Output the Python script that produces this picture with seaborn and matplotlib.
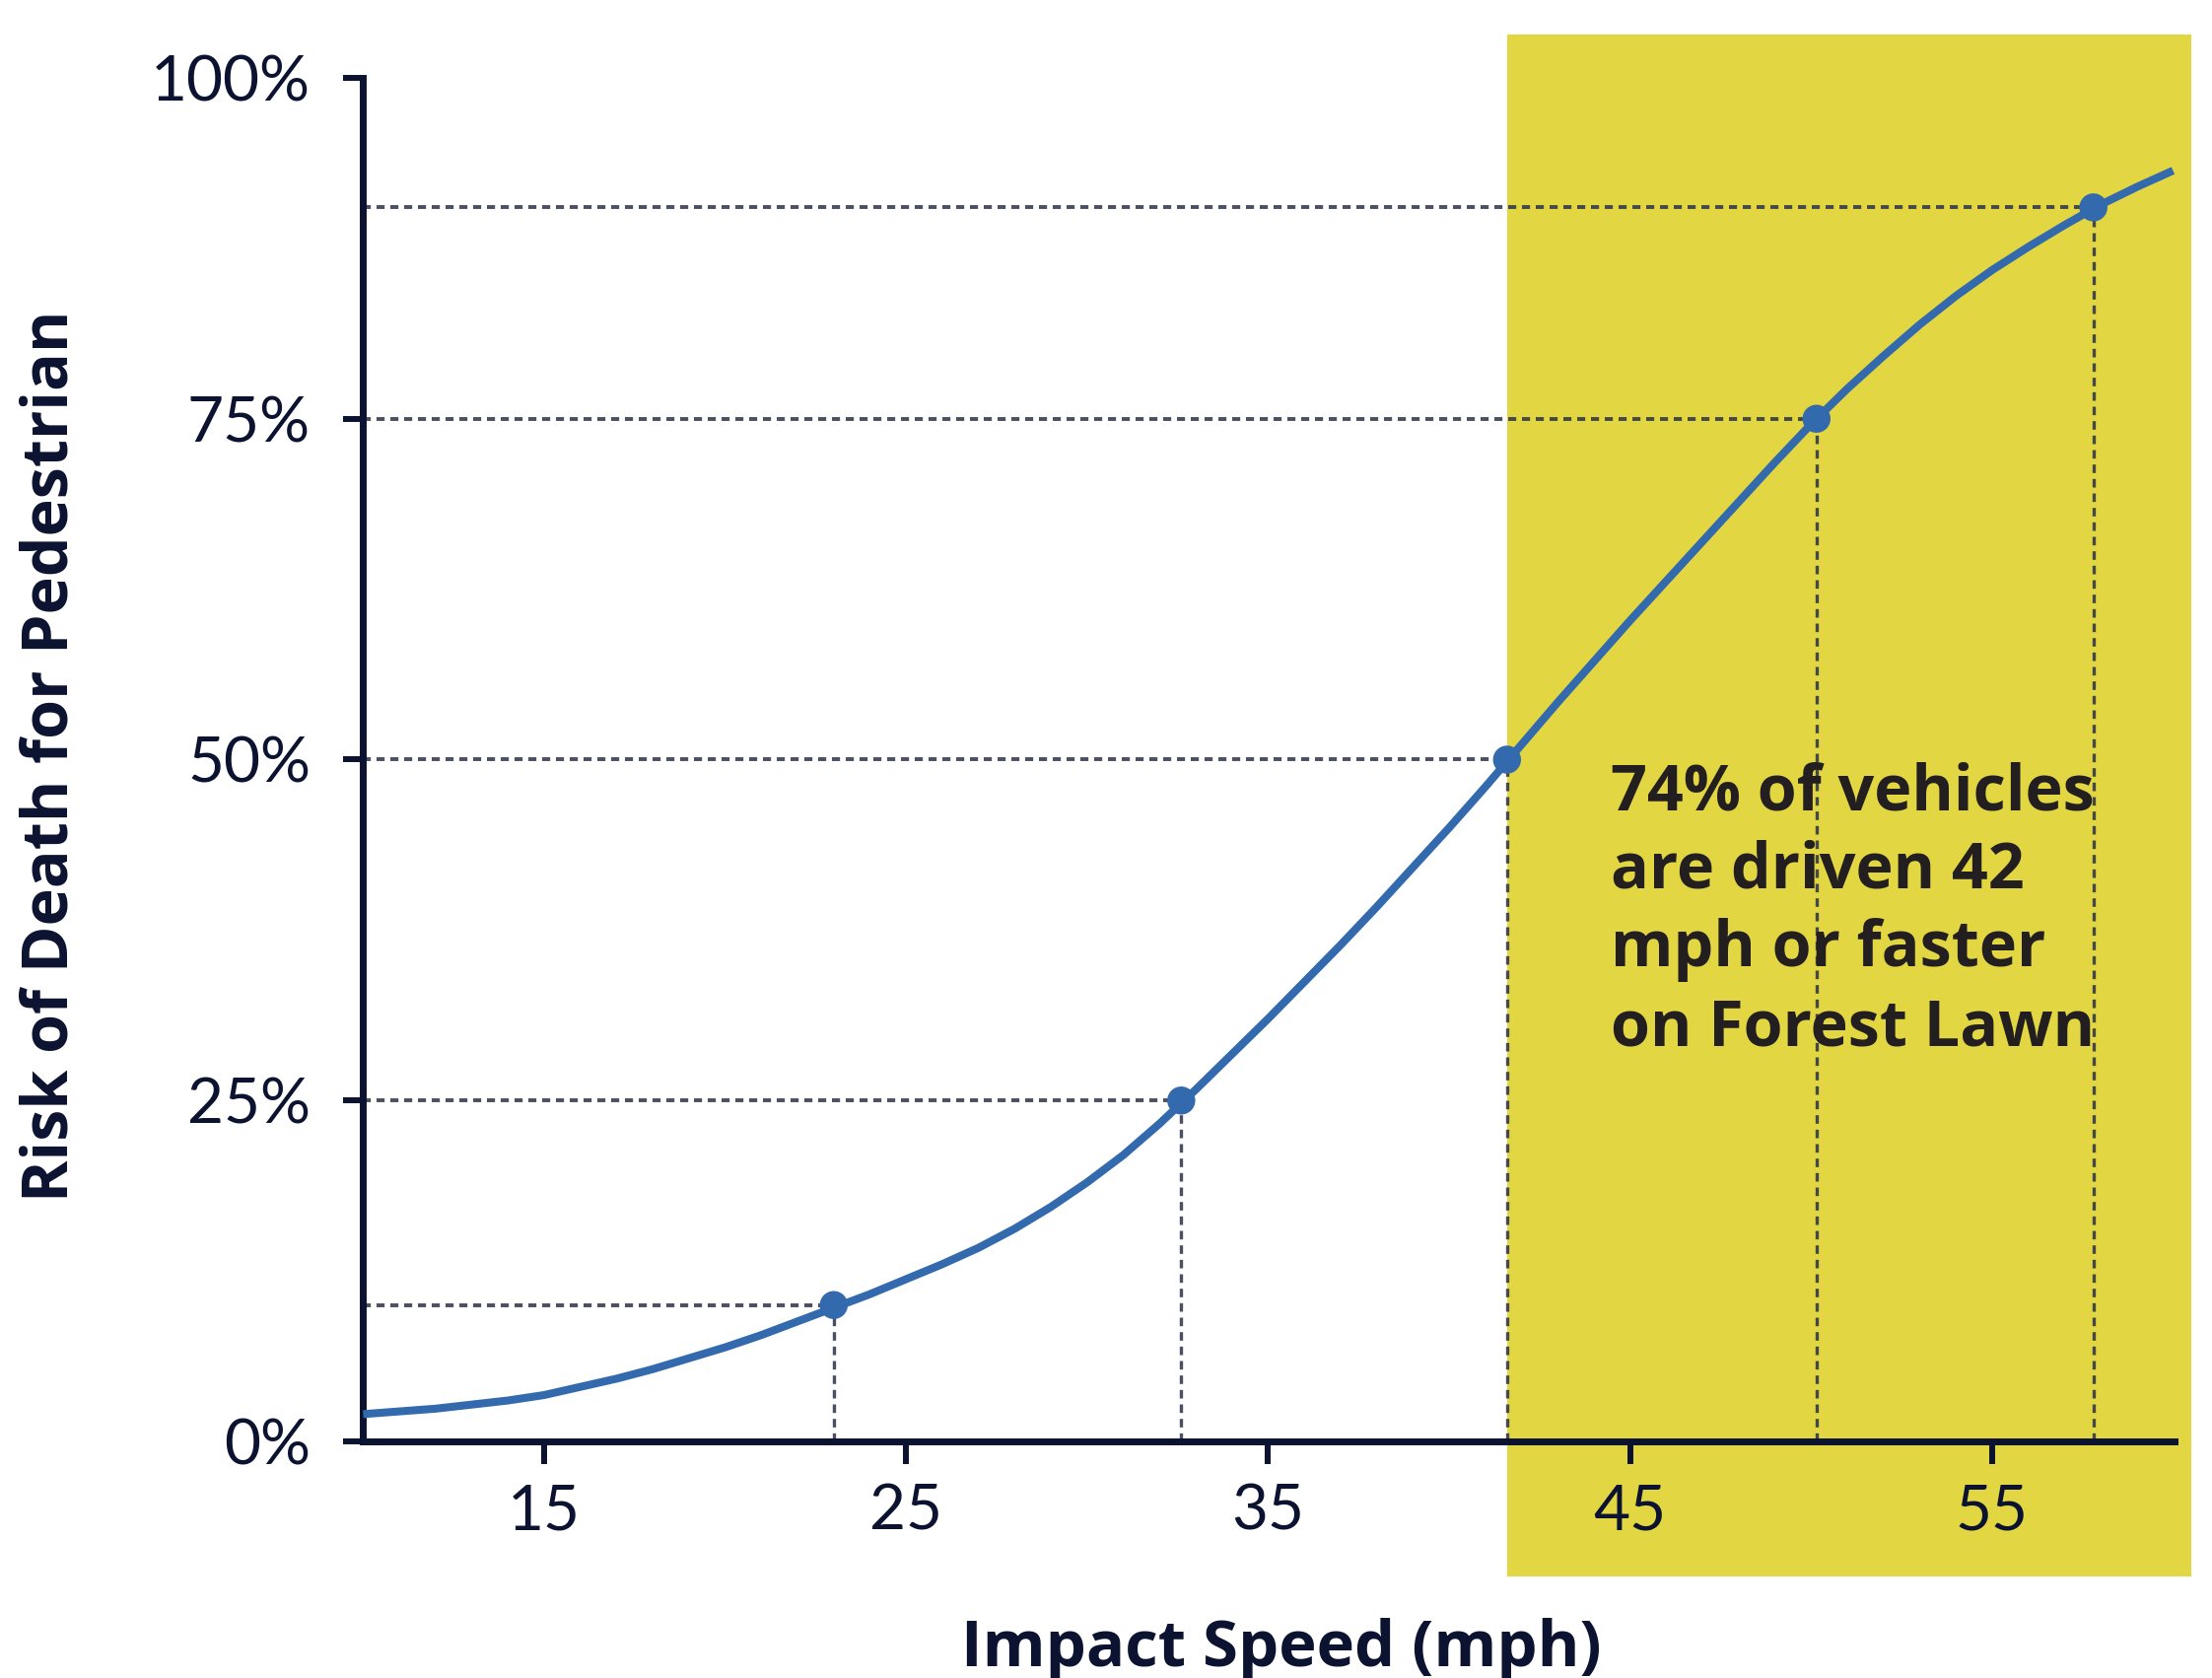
import matplotlib
matplotlib.use("Agg")
import matplotlib.pyplot as plt
import seaborn as sns
import pandas as pd
from matplotlib.patches import Rectangle

# ---- data ----
curve_speed = [10, 11, 12, 13, 14, 15, 16, 17, 18, 19, 20, 21, 22, 23, 24, 25,
               26, 27, 28, 29, 30, 31, 32, 33, 34, 35, 36, 37, 38, 39, 40, 41,
               42, 43, 44, 45, 46, 47, 48, 49, 50, 51, 52, 53, 54, 55, 56, 57,
               58, 59, 60]
curve_risk = [2.0, 2.2, 2.4, 2.7, 3.0, 3.4, 4.0, 4.6, 5.3, 6.1, 6.9, 7.8, 8.8,
              9.8, 10.8, 11.9, 13.0, 14.2, 15.6, 17.2, 19.0, 21.0, 23.3, 25.8,
              28.4, 31.0, 33.7, 36.4, 39.2, 42.1, 45.0, 48.0, 51.1, 54.2, 57.2,
              60.2, 63.1, 66.0, 68.9, 71.8, 74.6, 77.2, 79.6, 81.9, 84.0, 85.9,
              87.6, 89.2, 90.7, 92.0, 93.2]

point_speed = [23.0, 32.6, 41.6, 50.15, 57.8]
point_risk = [10.0, 25.0, 50.0, 75.0, 90.5]

x_ticks = [15, 25, 35, 45, 55]
y_ticks = [0, 25, 50, 75, 100]
y_tick_labels = ["0%", "25%", "50%", "75%", "100%"]

highlight_start = 41.6  # mph
annotation = "74% of vehicles\nare driven 42\nmph or faster\non Forest Lawn"
x_label = "Impact Speed (mph)"
y_label = "Risk of Death for Pedestrian"

# ---- styling ----
sns.set_theme(style="ticks")
plt.rcParams["font.family"] = ["Lato", "DejaVu Sans"]
BOLD_FAMILY = ["Open Sans", "Lato", "DejaVu Sans"]

NAVY = "#0B1331"
BLUE = "#336AAE"
YELLOW = "#E2D743"
GUIDE = "#2A3045"

fig = plt.figure(figsize=(22.44, 17.02), dpi=100)
ax = fig.add_axes([0.1642, 0.141, 0.8190, 0.8126])
ax.patch.set_alpha(0)

# highlighted region (extends beyond axes)
ax.add_patch(Rectangle((highlight_start, -9.9), 60.5 - highlight_start, 113.1,
                       facecolor=YELLOW, edgecolor="none", clip_on=False, zorder=0.5))

# guide lines
ax.hlines(point_risk, xmin=10, xmax=point_speed, colors=GUIDE, alpha=0.85,
          linewidth=2.8, linestyles=(0, (2.1, 1.5)), zorder=1.5)
ax.vlines(point_speed, ymin=0, ymax=point_risk, colors=GUIDE, alpha=0.85,
          linewidth=2.4, linestyles=(0, (2.6, 1.8)), zorder=1.5)

curve_df = pd.DataFrame({"speed": curve_speed, "risk": curve_risk})
pts_df = pd.DataFrame({"speed": point_speed, "risk": point_risk})
sns.lineplot(data=curve_df, x="speed", y="risk", ax=ax, color=BLUE,
             linewidth=5.8, zorder=3, clip_on=False, solid_capstyle="butt",
             solid_joinstyle="round")
sns.scatterplot(data=pts_df, x="speed", y="risk", ax=ax, color=BLUE,
                s=420, edgecolor="none", zorder=4, clip_on=False)

ax.set_xlim(10, 60.05)
ax.set_ylim(0, 100)
ax.set_xticks(x_ticks)
ax.set_xticklabels([str(v) for v in x_ticks])
ax.set_yticks(y_ticks)
ax.set_yticklabels(y_tick_labels)

for side in ["top", "right"]:
    ax.spines[side].set_visible(False)
for side in ["left", "bottom"]:
    ax.spines[side].set_color(NAVY)
    ax.spines[side].set_linewidth(5.0)
    ax.spines[side].set_zorder(2.5)

ax.tick_params(axis="x", direction="out", length=16.5, width=4.3, color=NAVY,
               labelsize=46, labelcolor=NAVY, pad=14)
ax.tick_params(axis="y", direction="out", length=14.5, width=4.3, color=NAVY,
               labelsize=46, labelcolor=NAVY, pad=24)

ax.set_xlabel(x_label, fontsize=47, fontweight="bold", color=NAVY, va="center",
              family=BOLD_FAMILY)
ax.set_ylabel(y_label, fontsize=46.5, fontweight="bold", color=NAVY, va="center",
              family=BOLD_FAMILY)
ax.xaxis.set_label_coords(0.507, -0.153)
ax.yaxis.set_label_coords(-0.172, 0.503)

fig.text(1634 / 2244, 1 - 772 / 1702, annotation, fontsize=46.5, fontweight="bold",
         color="#231F20", ha="left", va="top", linespacing=1.30,
         family=BOLD_FAMILY)

fig.savefig("out.png", dpi=100, facecolor="white")
